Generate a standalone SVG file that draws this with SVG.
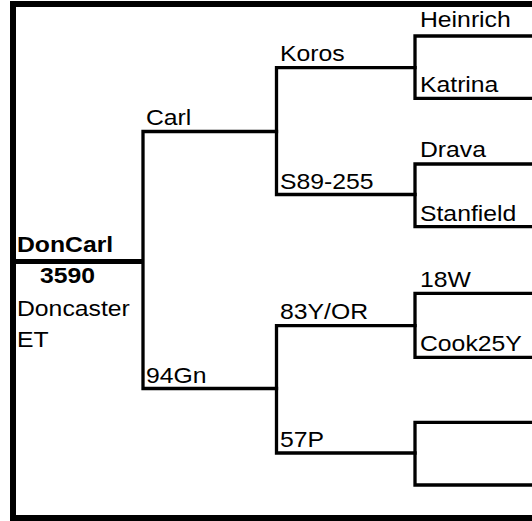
<svg xmlns="http://www.w3.org/2000/svg" width="532" height="521" viewBox="0 0 532 521">
<style>
.ln{fill:none;stroke:#000;stroke-width:3.3;stroke-linecap:square}
.bd{fill:none;stroke:#000;stroke-width:6}
text{font-family:"Liberation Sans",Arial,sans-serif;font-size:22.5px;fill:#000}
.b{font-weight:bold}
</style>
<rect width="532" height="521" fill="#fff"/>
<g id="connectors">
<path class="bd" d="M540,4 H13 V518 H540"/>
<path fill="none" stroke="#000" stroke-width="5" d="M16,261.5 H143"/>
<path class="ln" d="M276.5,131.5 H143 V388.5 H276.5"/>
<path class="ln" d="M415,67.7 H276.5 V194.5 H415"/>
<path class="ln" d="M415,325.7 H276.5 V453 H415"/>
<path class="ln" d="M534,36 H415 V98.3 H534"/>
<path class="ln" d="M534,164 H415 V226.7 H534"/>
<path class="ln" d="M534,293.3 H415 V357.3 H534"/>
<path class="ln" d="M534,422.3 H415 V485 H534"/>
</g>
<g id="root">
<text class="b" transform="translate(17,251.5) scale(1.1,1)">DonCarl</text>
<text class="b" transform="translate(40,282.5) scale(1.1,1)">3590</text>
<text transform="translate(17,315.5) scale(1.1,1)">Doncaster</text>
<text transform="translate(17,347) scale(1.1,1)">ET</text>
</g>
<g id="carl"><text transform="translate(146,125) scale(1.1,1)">Carl</text></g>
<g id="n94gn"><text transform="translate(146,382.5) scale(1.1,1)">94Gn</text></g>
<g id="koros"><text transform="translate(280,61) scale(1.1,1)">Koros</text></g>
<g id="s89"><text transform="translate(280,189) scale(1.1,1)">S89-255</text></g>
<g id="n83y"><text transform="translate(280,319) scale(1.1,1)">83Y/OR</text></g>
<g id="n57p"><text transform="translate(280,446.5) scale(1.1,1)">57P</text></g>
<g id="heinrich"><text transform="translate(420,27) scale(1.1,1)">Heinrich</text></g>
<g id="katrina"><text transform="translate(420,92) scale(1.1,1)">Katrina</text></g>
<g id="drava"><text transform="translate(420,157) scale(1.1,1)">Drava</text></g>
<g id="stanfield"><text transform="translate(420,220.5) scale(1.1,1)">Stanfield</text></g>
<g id="n18w"><text transform="translate(420,287) scale(1.1,1)">18W</text></g>
<g id="cook25y"><text transform="translate(420,351) scale(1.1,1)">Cook25Y</text></g>
<g id="unk1"></g>
<g id="unk2"></g>
</svg>
